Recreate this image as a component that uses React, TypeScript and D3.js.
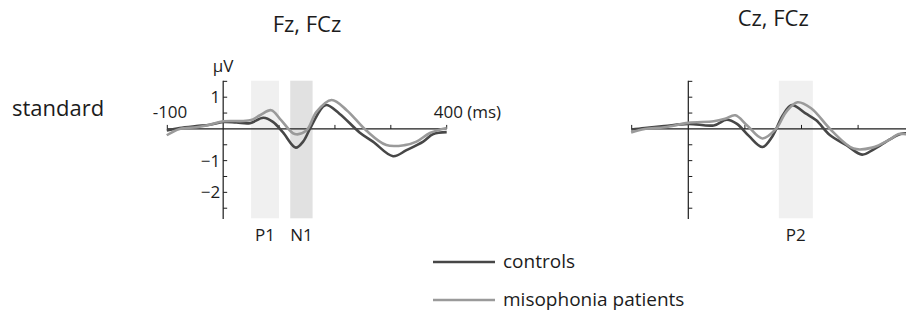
import React from 'react';
import * as d3 from 'd3';

// ERP waveforms, [ms, µV]
const fzControls: [number, number][] = [
  [-101, -0.05], [-78, 0.03], [-48, 0.09], [-24, 0.13], [0, 0.22], [24, 0.2], [48, 0.18],
  [72, 0.35], [89, 0.22], [107, -0.11], [130, -0.59], [143, -0.4], [158, 0.1], [183, 0.75],
  [208, 0.48], [244, -0.11], [268, -0.4], [304, -0.86], [328, -0.67], [358, -0.4], [376, -0.16], [400, -0.1],
];
const fzPatients: [number, number][] = [
  [-101, -0.2], [-78, 0], [-48, 0.05], [-24, 0.13], [0, 0.24], [48, 0.27], [66, 0.43],
  [86, 0.59], [104, 0.27], [128, -0.16], [149, -0.05], [167, 0.54], [194, 0.91], [221, 0.59],
  [256, -0.05], [292, -0.51], [325, -0.51], [346, -0.4], [370, -0.13], [400, 0.03],
];
const czControls: [number, number][] = [
  [-101, -0.02], [-77, 0.03], [-42, 0.09], [0, 0.16], [45, 0.11], [68, 0.29], [86, 0.16],
  [107, -0.22], [131, -0.57], [149, -0.22], [167, 0.43], [183, 0.75], [208, 0.48], [226, 0.27],
  [250, -0.19], [280, -0.52], [307, -0.81], [327, -0.65], [357, -0.32], [375, -0.16], [388, -0.14],
];
const czPatients: [number, number][] = [
  [-101, -0.11], [-77, 0], [-42, 0.05], [0, 0.19], [45, 0.24], [65, 0.32], [83, 0.43],
  [104, 0.11], [131, -0.3], [155, 0], [173, 0.54], [193, 0.84], [217, 0.65], [253, -0.05],
  [292, -0.62], [325, -0.59], [357, -0.32], [372, -0.16], [388, -0.18],
];

const titles = ['Fz, FCz', 'Cz, FCz'];
const windowsFz = [{ label: 'P1', from: 50, to: 100, dark: false }, { label: 'N1', from: 120, to: 160, dark: true }];
const windowsCz = [{ label: 'P2', from: 160, to: 220, dark: false }];
const yTickValues = [1.5, 1, 0.5, -0.5, -1, -1.5, -2, -2.5];
const yLabelValues = [1, -1, -2];
const xTickValues = [-100, 100, 200, 300, 400];
const seriesNames = ['controls', 'misophonia patients'];

const W = 906;
const H = 311;
const DARK = '#474747';
const LIGHT = '#9a9a9a';
const INK = '#1c1c1c';
const FONT = '"Open Sans", sans-serif';

const y = d3.scaleLinear().domain([-2.84, 1.52]).range([219, 80.7]);

function Panel({ x0, x1, title, windows, ctrl, pat, labelled }: any) {
  const x = d3.scaleLinear().domain([-100, 400]).range([x0, x1]);
  const line = d3.line<[number, number]>()
    .x(d => x(d[0]))
    .y(d => y(d[1]))
    .curve(d3.curveCatmullRom.alpha(0.5));
  const zx = x(0);
  const zy = y(0);
  const top = y(1.52);
  const bottom = y(-2.84);
  return (
    <g>
      <text x={(x(-100) + x(400)) / 2 + (labelled ? 0 : 0)} y={labelled ? 32 : 26} textAnchor="middle"
        fontSize={22} fontFamily={FONT} fill={INK}>{title}</text>
      {windows.map((w: any) => (
        <g key={w.label}>
          <rect x={x(w.from)} y={top} width={x(w.to) - x(w.from)} height={218.3 - top}
            fill={w.dark ? '#e1e1e1' : '#f0f0f0'} />
          <text x={x((w.from + w.to) / 2)} y={241} textAnchor="middle" fontSize={17}
            fontFamily={FONT} fill={INK}>{w.label}</text>
        </g>
      ))}
      <line x1={zx} x2={zx} y1={top} y2={bottom} stroke={INK} strokeWidth={1.2} />
      {yTickValues.map(v => (
        <line key={v} x1={zx} x2={zx + 4} y1={y(v)} y2={y(v)} stroke={INK} strokeWidth={1} />
      ))}
      <line x1={x(-100)} x2={x(400)} y1={zy} y2={zy} stroke={INK} strokeWidth={1.2} />
      {xTickValues.map(v => (
        <line key={v} x1={x(v)} x2={x(v)} y1={zy} y2={zy - 4} stroke={INK} strokeWidth={1} />
      ))}
      {labelled && (
        <g fontFamily={FONT} fill={INK}>
          {yLabelValues.map(v => (
            <text key={v} x={zx - 3} y={y(v) + 6} textAnchor="end" fontSize={17}>
              {v < 0 ? '\u2212' + Math.abs(v) : v}
            </text>
          ))}
          <text x={zx} y={72} textAnchor="middle" fontSize={17}>µV</text>
          <text x={x(-100) + 20} y={118} textAnchor="end" fontSize={17}>-100</text>
          <text x={x(400) - 13} y={118} textAnchor="start" fontSize={17}>400 (ms)</text>
        </g>
      )}
      <path d={line(ctrl) || ''} fill="none" stroke={DARK} strokeWidth={2.6} strokeLinejoin="round" />
      <path d={line(pat) || ''} fill="none" stroke={LIGHT} strokeWidth={2.6} strokeLinejoin="round" />
    </g>
  );
}

export default function App() {
  return (
    <svg width={W} height={H} viewBox={`0 0 ${W} ${H}`}
      style={{ position: 'absolute', left: 0, top: 0, background: '#fff', overflow: 'hidden' }}>
      <rect width={W} height={H} fill="#fff" />
      <text x={12} y={116} fontSize={22} fontFamily={FONT} fill={INK}>standard</text>
      <Panel x0={167.3} x1={446.7} title={titles[0]} windows={windowsFz}
        ctrl={fzControls} pat={fzPatients} labelled />
      <Panel x0={631.7} x1={914.7} title={titles[1]} windows={windowsCz}
        ctrl={czControls} pat={czPatients} labelled={false} />
      {seriesNames.map((name, i) => (
        <g key={name}>
          <line x1={433} x2={495} y1={262 + i * 38} y2={262 + i * 38}
            stroke={i === 0 ? DARK : LIGHT} strokeWidth={2.4} />
          <text x={503} y={268 + i * 38} fontSize={19} fontFamily={FONT} fill={INK}>{name}</text>
        </g>
      ))}
    </svg>
  );
}
